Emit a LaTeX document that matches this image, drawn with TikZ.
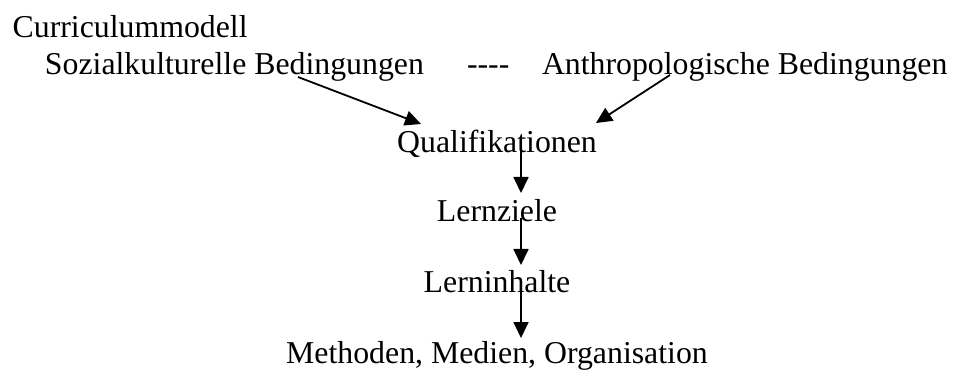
\documentclass[tikz,border=0pt]{standalone}
\usepackage{fontspec}
\setmainfont{Liberation Serif}
\usetikzlibrary{arrows.meta}
\tikzset{
  lbl/.style={inner sep=0pt, outer sep=0pt, font=\fontsize{31.8}{38}\selectfont},
  arr/.style={line width=1.8pt, -{Triangle[length=16pt,width=15pt]}}
}
\begin{document}
\begin{tikzpicture}[x=1pt,y=-1pt]
\useasboundingbox (0,0) rectangle (959,374);
\node[lbl, anchor=base west] (cur) at (12.7,38) {Curriculummodell};
\node[lbl, anchor=base west] (soz) at (45,75) {Sozialkulturelle Bedingungen};
\node[lbl, anchor=base west] (dash) at (467,75) {-{}-{}-{}-};
\node[lbl, anchor=base west] (anth) at (542,75) {Anthropologische Bedingungen};
\node[lbl, anchor=base] (qual) at (497,153) {Qualifikationen};
\node[lbl, anchor=base] (lz) at (497,222) {Lernziele};
\node[lbl, anchor=base] (li) at (497,292) {Lerninhalte};
\node[lbl, anchor=base] (meth) at (497,363) {Methoden, Medien, Organisation};
\coordinate (d1s) at (298,77);
\coordinate (d1e) at (421,124);
\coordinate (d2s) at (670,75);
\coordinate (d2e) at (596,123);
\coordinate (a1s) at (521,149);
\coordinate (a1e) at (521,193);
\coordinate (a2s) at (521,218);
\coordinate (a2e) at (521,265);
\coordinate (a3s) at (521,290);
\coordinate (a3e) at (521,338);
\draw[arr] (d1s) -- (d1e);
\draw[arr] (d2s) -- (d2e);
\draw[arr] (a1s) -- (a1e);
\draw[arr] (a2s) -- (a2e);
\draw[arr] (a3s) -- (a3e);
\end{tikzpicture}
\end{document}
